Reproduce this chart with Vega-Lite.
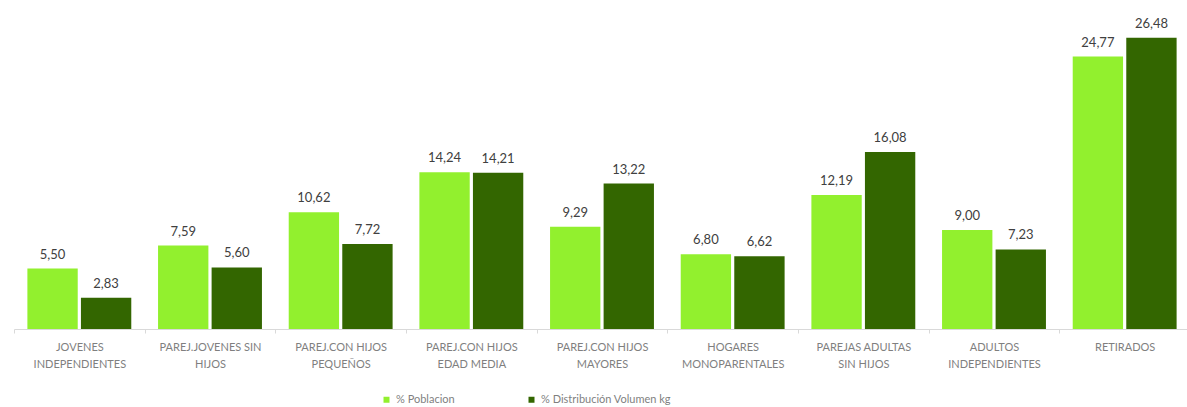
{
  "$schema": "https://vega.github.io/schema/vega-lite/v6.json",
  "width": 1176,
  "height": 308,
  "padding": {"left": 13, "top": 17, "right": 0, "bottom": 0},
  "autosize": {"type": "pad"},
  "background": "white",
  "config": {
    "view": {"stroke": null},
    "font": "Lato",
    "locale": {"number": {"decimal": ",", "thousands": ".", "grouping": [3], "currency": ["", " €"]}}
  },
  "data": {
    "values": [
      {"segmento": "JOVENES\nINDEPENDIENTES", "serie": "% Poblacion", "valor": 5.50},
      {"segmento": "JOVENES\nINDEPENDIENTES", "serie": "% Distribución Volumen kg", "valor": 2.83},
      {"segmento": "PAREJ.JOVENES SIN\nHIJOS", "serie": "% Poblacion", "valor": 7.59},
      {"segmento": "PAREJ.JOVENES SIN\nHIJOS", "serie": "% Distribución Volumen kg", "valor": 5.60},
      {"segmento": "PAREJ.CON HIJOS\nPEQUEÑOS", "serie": "% Poblacion", "valor": 10.62},
      {"segmento": "PAREJ.CON HIJOS\nPEQUEÑOS", "serie": "% Distribución Volumen kg", "valor": 7.72},
      {"segmento": "PAREJ.CON HIJOS\nEDAD MEDIA", "serie": "% Poblacion", "valor": 14.24},
      {"segmento": "PAREJ.CON HIJOS\nEDAD MEDIA", "serie": "% Distribución Volumen kg", "valor": 14.21},
      {"segmento": "PAREJ.CON HIJOS\nMAYORES", "serie": "% Poblacion", "valor": 9.29},
      {"segmento": "PAREJ.CON HIJOS\nMAYORES", "serie": "% Distribución Volumen kg", "valor": 13.22},
      {"segmento": "HOGARES\nMONOPARENTALES", "serie": "% Poblacion", "valor": 6.80},
      {"segmento": "HOGARES\nMONOPARENTALES", "serie": "% Distribución Volumen kg", "valor": 6.62},
      {"segmento": "PAREJAS ADULTAS\nSIN HIJOS", "serie": "% Poblacion", "valor": 12.19},
      {"segmento": "PAREJAS ADULTAS\nSIN HIJOS", "serie": "% Distribución Volumen kg", "valor": 16.08},
      {"segmento": "ADULTOS\nINDEPENDIENTES", "serie": "% Poblacion", "valor": 9.00},
      {"segmento": "ADULTOS\nINDEPENDIENTES", "serie": "% Distribución Volumen kg", "valor": 7.23},
      {"segmento": "RETIRADOS", "serie": "% Poblacion", "valor": 24.77},
      {"segmento": "RETIRADOS", "serie": "% Distribución Volumen kg", "valor": 26.48}
    ]
  },
  "encoding": {
    "x": {
      "field": "segmento",
      "type": "nominal",
      "sort": null,
      "title": null,
      "scale": {"paddingInner": 0, "paddingOuter": 0},
      "axis": {
        "labelAngle": 0,
        "labelExpr": "datum.value ? split(datum.value, '\\n') : ''",
        "labelFontSize": 11,
        "labelColor": "#7f7f7f",
        "labelLineHeight": 17,
        "labelPadding": 8,
        "labelLimit": 200,
        "domainColor": "#d9d9d9",
        "tickColor": "#d9d9d9",
        "tickBand": "extent",
        "tickSize": 4
      }
    },
    "xOffset": {
      "field": "serie",
      "type": "nominal",
      "sort": ["% Poblacion", "% Distribución Volumen kg"],
      "scale": {"paddingInner": 0.06, "paddingOuter": 0.25}
    },
    "y": {
      "field": "valor",
      "type": "quantitative",
      "scale": {"domain": [0, 28], "nice": false},
      "axis": null
    }
  },
  "layer": [
    {
      "mark": {"type": "bar"},
      "encoding": {
        "color": {
          "field": "serie",
          "type": "nominal",
          "sort": ["% Poblacion", "% Distribución Volumen kg"],
          "scale": {"domain": ["% Poblacion", "% Distribución Volumen kg"], "range": ["#92F02E", "#336600"]},
          "legend": {
            "title": null,
            "orient": "none",
            "legendX": 367,
            "legendY": 373,
            "direction": "horizontal",
            "symbolType": "square",
            "symbolSize": 36,
            "labelFontSize": 11,
            "labelColor": "#7f7f7f",
            "columnPadding": 71,
            "symbolStrokeWidth": 0
          }
        }
      }
    },
    {
      "mark": {"type": "text", "baseline": "bottom", "dy": -7, "fontSize": 13, "color": "#404040"},
      "encoding": {
        "text": {"field": "valor", "type": "quantitative", "format": ".2f"}
      }
    }
  ]
}
